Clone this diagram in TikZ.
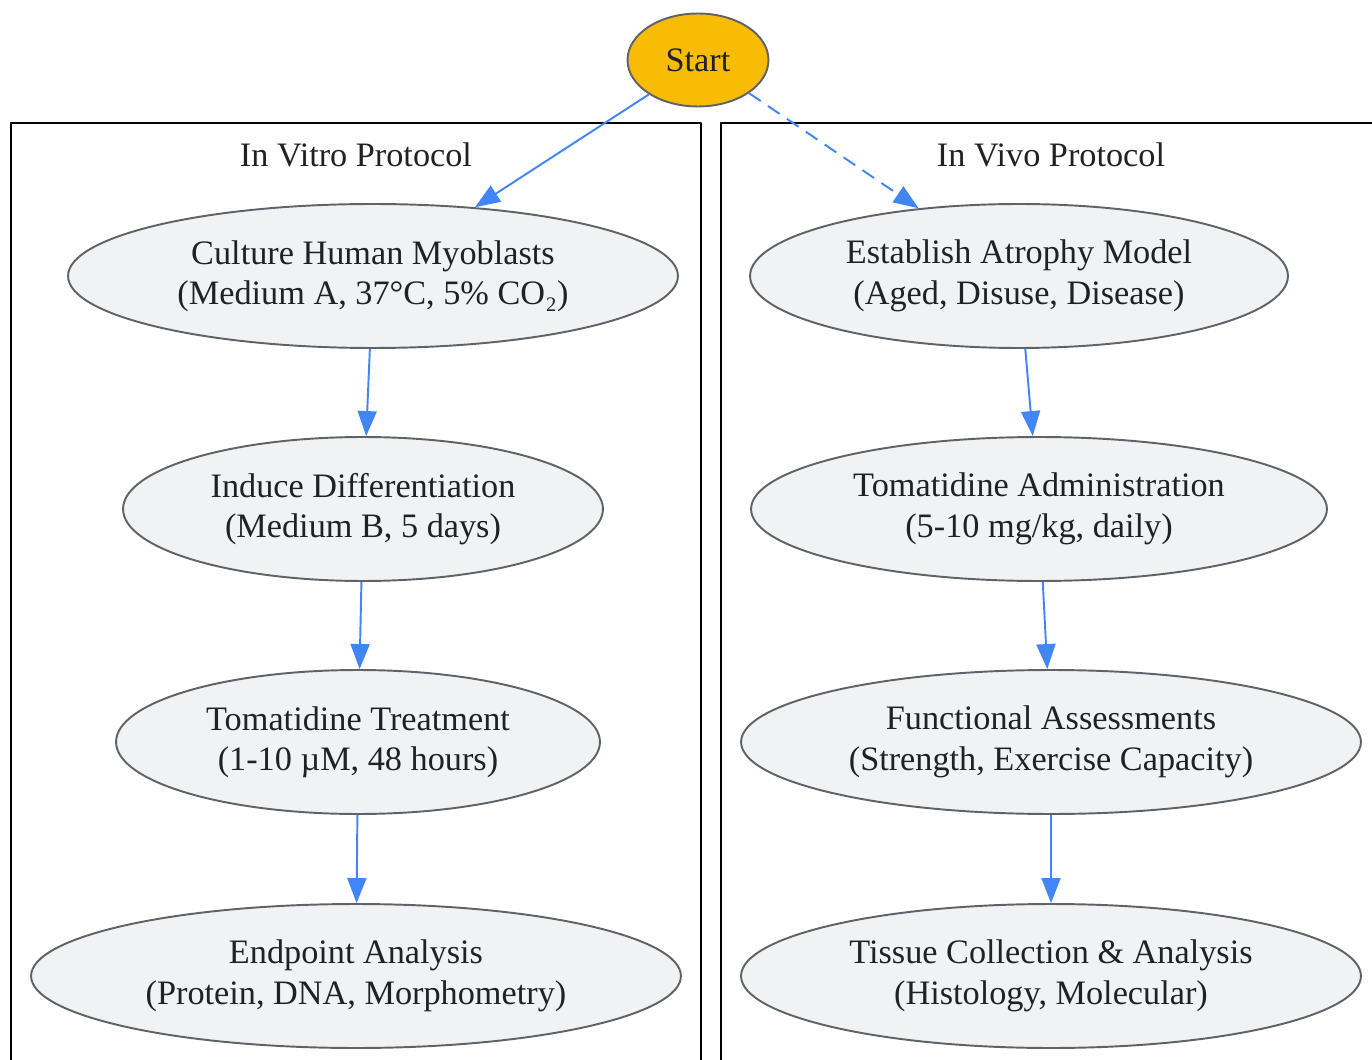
\documentclass[tikz,border=0pt]{standalone}
\usepackage{fontspec}
\setmainfont{LiberationSerif}[Extension=.ttf,UprightFont=*-Regular,BoldFont=*-Bold]
\usetikzlibrary{shapes.geometric,arrows.meta}
\definecolor{flowblue}{HTML}{4285F4}
\definecolor{startfill}{HTML}{F9BC05}
\definecolor{stepfill}{HTML}{F1F2F4}
\definecolor{edgegray}{HTML}{5F6368}
\definecolor{inktext}{HTML}{202124}
\begin{document}
\begin{tikzpicture}[x=0.02cm,y=-0.02cm,line join=round,
    >={Triangle[length=0.5cm,width=0.38cm]},
    font=\fontsize{19.5}{23}\selectfont,
    stepnode/.style={ellipse,draw=edgegray,line width=1.1pt,fill=stepfill,
      text=inktext,align=center,inner sep=0pt,minimum height=2.88cm},
    cluster/.style={draw=black,line width=1.2pt},
    flow/.style={->,draw=flowblue,line width=1.1pt}]
    \useasboundingbox (0,0) rectangle (1372,1060);
    \clip (0,0) rectangle (1372,1060);
    % the two protocol boxes
    \draw[cluster] (11,1080) -- (11,123) -- (701,123) -- (701,1080);
    \draw[cluster] (721,1080) -- (721,123) -- (1390,123);
    \node[text=inktext] (vitrotitle) at (356,155) {In Vitro Protocol};
    \node[text=inktext] (vivotitle) at (1051,155) {In Vivo Protocol};
    \node[ellipse,draw=edgegray,line width=1.1pt,fill=startfill,text=inktext,
      inner sep=0pt,minimum width=2.82cm,minimum height=1.86cm] (start) at (698,60) {Start};
    % in vitro
    \node[stepnode,minimum width=12.2cm] (culture) at (373,276)
      {Culture Human Myoblasts\\(Medium A, 37°C, 5\% CO₂)};
    \node[stepnode,minimum width=9.6cm] (induce) at (363,509)
      {Induce Differentiation\\(Medium B, 5 days)};
    \node[stepnode,minimum width=9.68cm] (treat) at (358,742)
      {Tomatidine Treatment\\(1-10 µM, 48 hours)};
    \node[stepnode,minimum width=13cm] (endpoint) at (356,976)
      {Endpoint Analysis\\(Protein, DNA, Morphometry)};
    % in vivo
    \node[stepnode,minimum width=10.76cm] (model) at (1019,276)
      {Establish Atrophy Model\\(Aged, Disuse, Disease)};
    \node[stepnode,minimum width=11.52cm] (admin) at (1039,509)
      {Tomatidine Administration\\(5-10 mg/kg, daily)};
    \node[stepnode,minimum width=12.4cm] (func) at (1051,742)
      {Functional Assessments\\(Strength, Exercise Capacity)};
    \node[stepnode,minimum width=12.4cm] (tissue) at (1051,976)
      {Tissue Collection \& Analysis\\(Histology, Molecular)};
    \draw[flow] (start.215) -- (culture.34);
    \draw[flow,dash pattern=on 8pt off 5pt] (start.327) -- (model.146);
    \draw[flow] (culture) -- (induce);
    \draw[flow] (induce) -- (treat);
    \draw[flow] (treat) -- (endpoint);
    \draw[flow] (model) -- (admin);
    \draw[flow] (admin) -- (func);
    \draw[flow] (func) -- (tissue);
\end{tikzpicture}
\end{document}
